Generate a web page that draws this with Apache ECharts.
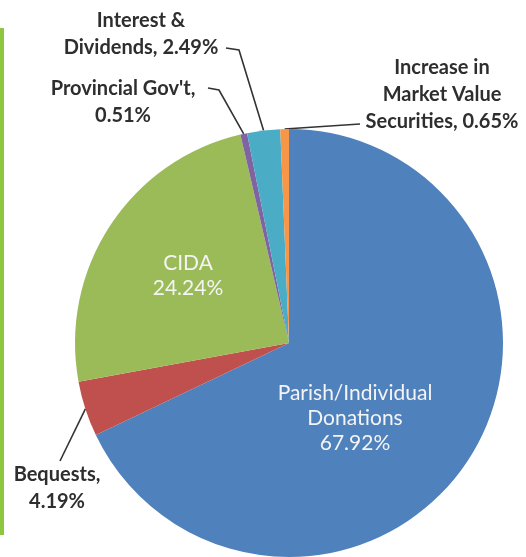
<!DOCTYPE html>
<html>
<head>
<meta charset="utf-8">
<script src="https://cdn.jsdelivr.net/npm/echarts@6/dist/echarts.min.js"></script>
<style>
    html, body { margin: 0; padding: 0; background: #fff; }
    #wrap { position: relative; width: 526px; height: 557px; }
    #bar { position: absolute; left: 0; top: 28px; width: 4px; height: 507px; background: #8DC63F; }
    #main { position: absolute; left: 0; top: 0; width: 526px; height: 557px; }
</style>
</head>
<body>
<div id="wrap">
    <div id="bar"></div>
    <div id="main"></div>
</div>
<script>
// 数据
var names = ['Parish/Individual\nDonations', 'Bequests', 'CIDA', "Provincial Gov't", 'Interest &\nDividends', 'Increase in\nMarket Value\nSecurities'];
var values = [67.92, 4.19, 24.24, 0.51, 2.49, 0.65];
var labelTexts = ['Parish/Individual\nDonations\n67.92%', 'Bequests,\n4.19%', 'CIDA\n24.24%', "Provincial Gov't,\n0.51%", 'Interest &\nDividends, 2.49%', 'Increase in\nMarket Value\nSecurities, 0.65%'];
var colors = ['#4F81BD', '#C0504D', '#9BBB59', '#8064A2', '#4BACC6', '#F79646'];

// 饼图位置
var cx = 289, cy = 343, R = 214;
// 标签位置 (文字块中心)
var labelPos = [[355, 418], [57, 488], [188, 276], [123, 102], [141, 34], [442, 95]];
// 引导线: 文字端的点
var lineEnds = [null, [[60, 461]], null, [[219, 90], [208, 88]], [[239, 50], [226, 48]], [[360, 124]]];
var inside = [true, false, true, false, false, false];

var total = 0;
for (var i = 0; i < values.length; i++) total += values[i];

// 扇区中点 (按数据算角度)
function sliceAnchor(idx) {
    var acc = 0;
    for (var i = 0; i < idx; i++) acc += values[i];
    var mid = (acc + values[idx] / 2) / total * Math.PI * 2;
    return [cx + R * Math.sin(mid), cy - R * Math.cos(mid)];
}

var pieData = [];
for (var i = 0; i < values.length; i++) {
    pieData.push({
        name: names[i],
        value: values[i],
        itemStyle: {color: colors[i]},
        label: {
            position: inside[i] ? 'inside' : 'outside',
            color: inside[i] ? '#f4f4f4' : '#2e2e2e',
            fontWeight: inside[i] ? 'normal' : 'bold',
            fontSize: inside[i] ? 21 : 20,
            lineHeight: inside[i] ? 25 : 27
        },
        labelLine: {show: !inside[i]}
    });
}

var myChart = echarts.init(document.getElementById('main'));
var option = {
    animation: false,
    series: [{
        type: 'pie',
        center: [cx, cy],
        radius: R,
        startAngle: 90,
        clockwise: true,
        avoidLabelOverlap: false,
        silent: true,
        data: pieData,
        itemStyle: {borderWidth: 0},
        label: {
            show: true,
            fontFamily: 'Lato',
            formatter: function (p) {
                return labelTexts[p.dataIndex];
            }
        },
        labelLine: {
            lineStyle: {color: '#333', width: 1.6}
        },
        labelLayout: function (p) {
            var i = p.dataIndex;
            var res = {x: labelPos[i][0], y: labelPos[i][1], align: 'center', verticalAlign: 'middle'};
            if (lineEnds[i]) {
                res.labelLinePoints = [sliceAnchor(i)].concat(lineEnds[i]);
            }
            return res;
        }
    }]
};
myChart.setOption(option);
</script>
</body>
</html>
